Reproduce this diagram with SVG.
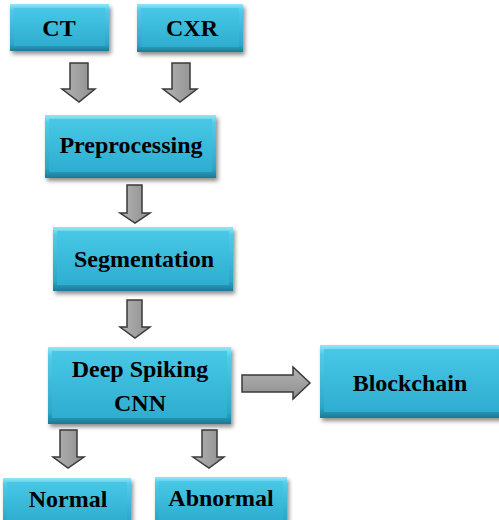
<svg xmlns="http://www.w3.org/2000/svg" width="499" height="520" viewBox="0 0 499 520">
  <defs>
    <linearGradient id="bevel" x1="0" y1="0" x2="0" y2="1">
      <stop offset="0" stop-color="#93e6f7"/>
      <stop offset="0.12" stop-color="#52cbe9"/>
      <stop offset="0.85" stop-color="#2da6c7"/>
      <stop offset="1" stop-color="#1c7a95"/>
    </linearGradient>
    <linearGradient id="face" x1="0" y1="0" x2="0" y2="1">
      <stop offset="0" stop-color="#48c8e6"/>
      <stop offset="1" stop-color="#2eadd0"/>
    </linearGradient>
    <linearGradient id="arrowFill" x1="0" y1="0" x2="1" y2="0">
      <stop offset="0" stop-color="#b4b4b4"/>
      <stop offset="1" stop-color="#8e8e8e"/>
    </linearGradient>
    <linearGradient id="arrowFillH" x1="0" y1="0" x2="0" y2="1">
      <stop offset="0" stop-color="#b4b4b4"/>
      <stop offset="1" stop-color="#8e8e8e"/>
    </linearGradient>
    <filter id="shadow" x="-10%" y="-10%" width="130%" height="140%">
      <feDropShadow dx="2" dy="3" stdDeviation="2" flood-color="#000" flood-opacity="0.45"/>
    </filter>
  </defs>
  <style>
    .outer { fill: url(#bevel); filter: url(#shadow); }
    .inner { fill: url(#face); }
    .lbl { font-family: "Liberation Serif", "Times New Roman", serif; font-weight: bold; font-size: 24px; fill: #000; text-anchor: middle; }
    .arrow { fill: url(#arrowFill); stroke: #3a3a3a; stroke-width: 1.5; stroke-linejoin: miter; }
    .arrowH { fill: url(#arrowFillH); stroke: #3a3a3a; stroke-width: 1.5; stroke-linejoin: miter; }
  </style>

  <g id="connectors">
    <polygon class="arrow" points="70,63 88,63 88,89 95,89 79,102 62,89 70,89"/>
    <polygon class="arrow" points="172,63 190,63 190,89 197,89 180,102 163,89 172,89"/>
    <polygon class="arrow" points="127,185 142,185 142,213 150,213 135,223 120,213 127,213"/>
    <polygon class="arrow" points="127,300 142,300 142,327 150,327 135,338 120,327 127,327"/>
    <polygon class="arrowH" points="242,375 293,375 293,367 310,383 293,399 293,392 242,392"/>
    <polygon class="arrow" points="60,430 77,430 77,457 84,457 68,468 53,457 60,457"/>
    <polygon class="arrow" points="202,430 217,430 217,457 224,457 209,468 193,457 202,457"/>
  </g>

  <g id="ct">
    <rect class="outer" x="10" y="4" width="99" height="47"/>
    <rect class="inner" x="14" y="8" width="91" height="38"/>
    <text class="lbl" x="59" y="36">CT</text>
  </g>
  <g id="cxr">
    <rect class="outer" x="137" y="4" width="106" height="48"/>
    <rect class="inner" x="141" y="8" width="98" height="39"/>
    <text class="lbl" x="192" y="36">CXR</text>
  </g>
  <g id="preprocessing">
    <rect class="outer" x="45" y="115" width="171" height="63"/>
    <rect class="inner" x="49" y="119" width="163" height="53"/>
    <text class="lbl" x="131" y="153">Preprocessing</text>
  </g>
  <g id="segmentation">
    <rect class="outer" x="53" y="227" width="180" height="64"/>
    <rect class="inner" x="57" y="231" width="172" height="54"/>
    <text class="lbl" x="144" y="267">Segmentation</text>
  </g>
  <g id="deep-spiking-cnn">
    <rect class="outer" x="48" y="347" width="183" height="77"/>
    <rect class="inner" x="52" y="351" width="175" height="67"/>
    <text class="lbl" x="140" y="377">Deep Spiking</text>
    <text class="lbl" x="140" y="411">CNN</text>
  </g>
  <g id="blockchain">
    <rect class="outer" x="320" y="345" width="182" height="73"/>
    <rect class="inner" x="324" y="349" width="180" height="63"/>
    <text class="lbl" x="410" y="391">Blockchain</text>
  </g>
  <g id="normal">
    <rect class="outer" x="3" y="478" width="128" height="50"/>
    <rect class="inner" x="7" y="482" width="120" height="40"/>
    <text class="lbl" x="68" y="507">Normal</text>
  </g>
  <g id="abnormal">
    <rect class="outer" x="155" y="477" width="132" height="50"/>
    <rect class="inner" x="159" y="481" width="124" height="40"/>
    <text class="lbl" x="221" y="506">Abnormal</text>
  </g>
</svg>
